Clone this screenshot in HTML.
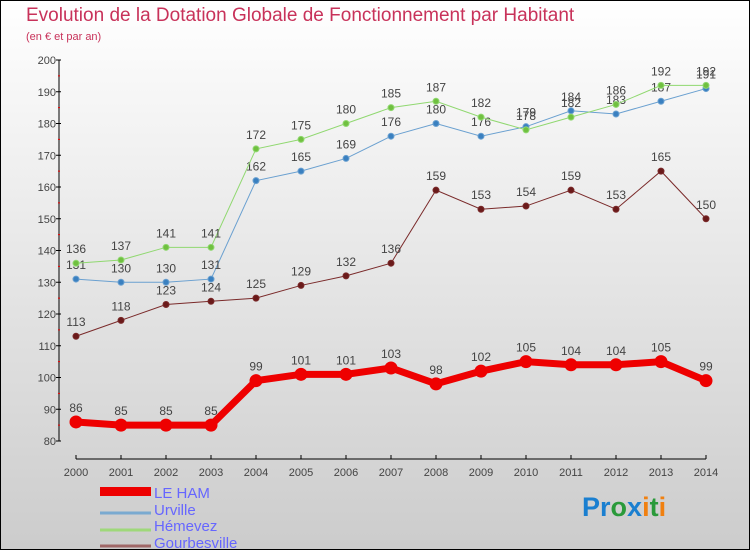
<!DOCTYPE html>
<html><head><meta charset="utf-8"><style>
body{margin:0}
#c{width:750px;height:550px;position:relative;background:linear-gradient(#fff,#ccc);border:1px solid #000;box-sizing:border-box;font-family:"Liberation Sans",sans-serif;overflow:hidden}
</style></head><body>
<div id="c">
<svg id="s" width="750" height="550" style="position:absolute;left:-1px;top:-1px">
<text x="26" y="21" font-size="19" fill="#c8325a">Evolution de la Dotation Globale de Fonctionnement par Habitant</text>
<text x="26" y="40" font-size="11" fill="#c8325a">(en € et par an)</text>
<line x1="59" y1="60" x2="59" y2="441" stroke="#000"/>
<line x1="76" y1="459" x2="706" y2="459" stroke="#000"/>
<g id="ax"></g><g id="series"></g>
<g>
<rect x="100" y="487" width="51" height="9" fill="#e00"/>
<text x="154" y="498" font-size="15" fill="#66f">LE HAM</text>
<line x1="100" y1="513" x2="151" y2="513" stroke="#7aaad0" stroke-width="3"/>
<text x="154" y="515" font-size="15" fill="#66f">Urville</text>
<line x1="100" y1="530" x2="151" y2="530" stroke="#9fd87a" stroke-width="3"/>
<text x="154" y="531" font-size="15" fill="#66f">Hémevez</text>
<line x1="100" y1="546" x2="151" y2="546" stroke="#a06868" stroke-width="3"/>
<text x="154" y="548" font-size="15" fill="#66f">Gourbesville</text>
</g>
<text x="582" y="516" font-size="27" font-weight="bold"><tspan fill="#1a7fd0">Pr</tspan><tspan fill="#2a9a3a">o</tspan><tspan fill="#1a7fd0">x</tspan><tspan fill="#f08010">i</tspan><tspan fill="#2a9a3a">t</tspan><tspan fill="#f08010">i</tspan></text>
</svg>
</div>
<script>
const years=[2000,2001,2002,2003,2004,2005,2006,2007,2008,2009,2010,2011,2012,2013,2014];
const yTicks=[80,90,100,110,120,130,140,150,160,170,180,190,200];
const leHam=[86,85,85,85,99,101,101,103,98,102,105,104,104,105,99];
const urville=[131,130,130,131,162,165,169,176,180,176,179,184,183,187,191];
const hemevez=[136,137,141,141,172,175,180,185,187,182,178,182,186,192,192];
const gourbesville=[113,118,123,124,125,129,132,136,159,153,154,159,153,165,150];
const NS="http://www.w3.org/2000/svg";
function X(i){return 76+i*(630/(years.length-1));}
function Y(v){return 441-(v-80)*(381/120);}
function mk(t,a,p){const e=document.createElementNS(NS,t);for(const k in a)e.setAttribute(k,a[k]);p.appendChild(e);return e;}
const ax=document.getElementById('ax');
yTicks.forEach(v=>{
 const t=mk('text',{x:56,y:Y(v)+4,'font-size':11,fill:'#444','text-anchor':'end'},ax);t.textContent=v;
 
 
 mk('line',{x1:56,x2:61,y1:Y(v),y2:Y(v),stroke:'#000'},ax);
 if(v<200)mk('line',{x1:58,x2:60,y1:Y(v+5),y2:Y(v+5),stroke:'#e00'},ax);
});
years.forEach((yr,i)=>{
 mk('line',{x1:X(i),x2:X(i),y1:455,y2:459,stroke:'#000'},ax);
 const t=mk('text',{x:X(i),y:476,'font-size':11,fill:'#444','text-anchor':'middle'},ax);t.textContent=yr;
 
 
});
const sg=document.getElementById('series');
function draw(name,d,col,dot,w,r,fs){
 const g=mk('g',{},sg);
 
 
 mk('polyline',{points:d.map((v,i)=>X(i)+','+Y(v)).join(' '),fill:'none',stroke:col,'stroke-width':w},g);
 d.forEach((v,i)=>{
  const c=mk('circle',{cx:X(i),cy:Y(v),r:r,fill:dot,stroke:col,'stroke-width':1},g);
  
  
  const t=mk('text',{x:X(i),y:Y(v)-10,'font-size':fs,fill:'#444','text-anchor':'middle'},g);t.textContent=v;
  
  
 });
}
draw('gourbesville',gourbesville,'#7a2a2a','#6a1a1a',1,3,12);
draw('urville',urville,'#6aa0d0','#3a80c0',1,3,12);
draw('hemevez',hemevez,'#90d870','#70c040',1,3,12);
draw('le-ham',leHam,'#e00','#e00',7,6,12);
</script>
</body></html>
